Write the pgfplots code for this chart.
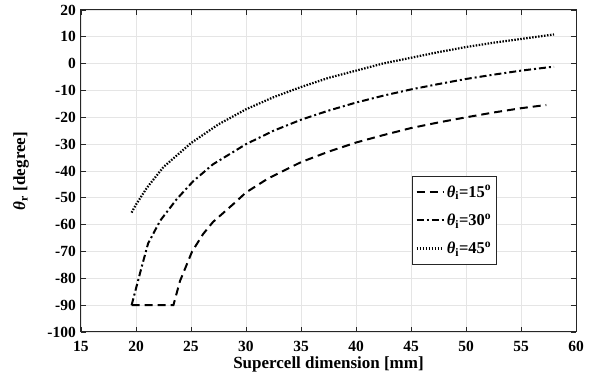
\documentclass[border=0pt]{standalone}
\usepackage{pgfplots}
\pgfplotsset{compat=1.18}
\usepackage{fontspec}
\setmainfont{Liberation Serif}
\begin{document}
\begin{tikzpicture}
\begin{axis}[
 name=ax,
 scale only axis,
 width=495pt, height=322pt,
 xmin=15, xmax=60, ymin=-100, ymax=20,
 xtick={15,20,25,30,35,40,45,50,55,60},
 ytick={-100,-90,-80,-70,-60,-50,-40,-30,-20,-10,0,10,20},
 xticklabels={15,20,25,30,35,40,45,50,55,60},
 yticklabels={-100,-90,-80,-70,-60,-50,-40,-30,-20,-10,0,10,20},
 grid=major,
 major grid style={draw=black!10, line width=0.7pt},
 tick align=inside,
 major tick length=5pt,
 tick style={black!85, line width=0.8pt},
 axis line style={black!85, line width=1pt},
 ticklabel style={font=\fontsize{15.5}{17}\selectfont\bfseries},
 xticklabel style={anchor=base, inner sep=0pt, yshift=-20pt},
 yticklabel style={anchor=east, inner sep=0pt, xshift=-5pt},
 xlabel={Supercell dimension [mm]},
 ylabel={\textit{θ}\textsubscript{r} [degree]},
 label style={font=\fontsize{17}{20}\selectfont\bfseries},
 xlabel style={at={(axis description cs:0.5,0)}, anchor=base, inner sep=0pt, yshift=-37pt},
 ylabel style={at={(axis description cs:0,0.5)}, anchor=center, yshift=60pt},
 legend style={at={(rel axis cs:0.669,0.484)}, anchor=north west, draw=black!85, line width=0.8pt,
   font=\fontsize{16.5}{18}\selectfont\bfseries, row sep=11pt, inner xsep=3pt, inner ysep=7pt},
 legend cell align=left,
 legend image code/.code={\draw[#1] (0pt,0pt) -- (27pt,0pt);},
]
\addplot[black, line width=2pt, dash pattern=on 8pt off 5pt] coordinates {
 (19.6,-90) (23.4,-90) (24.0,-81) (25.1,-70) (26.1,-63.5) (27.0,-59) (28.8,-52.5)
 (30,-48) (32,-42.8) (35,-36.7) (37.5,-32.8) (40,-29.4) (42.5,-26.6) (45,-24)
 (47.5,-21.9) (50,-20) (52.5,-18.2) (55,-16.6) (57.3,-15.4)};
\addlegendentry{\textit{θ}\textsubscript{i}=15\textsuperscript{o}}
\addplot[black, line width=2pt, dash pattern=on 7pt off 3pt on 2pt off 3pt] coordinates {
 (19.6,-90) (20.5,-76) (21.1,-67) (22.2,-58.5) (23.7,-50.5) (25.2,-43.8) (27,-37.5)
 (30,-30) (32.5,-25) (35,-20.9) (37.5,-17.5) (40,-14.5) (42.5,-11.9) (45,-9.6)
 (47.5,-7.6) (50,-5.7) (52.5,-4.1) (55,-2.6) (58,-1.1)};
\addlegendentry{\textit{θ}\textsubscript{i}=30\textsuperscript{o}}
\addplot[black, line width=2.2pt, dash pattern=on 1.5pt off 1.5pt] coordinates {
 (19.6,-55.5) (20,-52.5) (21,-46.2) (22.5,-38.5) (25,-29.6) (27.5,-22.6) (30,-17)
 (32.5,-12.5) (35,-8.7) (37.5,-5.3) (40,-2.6) (42.5,0.1) (45,2.2) (47.5,4.3)
 (50,6.2) (52.5,7.8) (55,9.2) (58,10.9)};
\addlegendentry{\textit{θ}\textsubscript{i}=45\textsuperscript{o}}
\end{axis}
\path (ax.south west) ++(-81pt,-53pt);
\path (ax.north east) ++(21pt,10pt);
\end{tikzpicture}
\end{document}
